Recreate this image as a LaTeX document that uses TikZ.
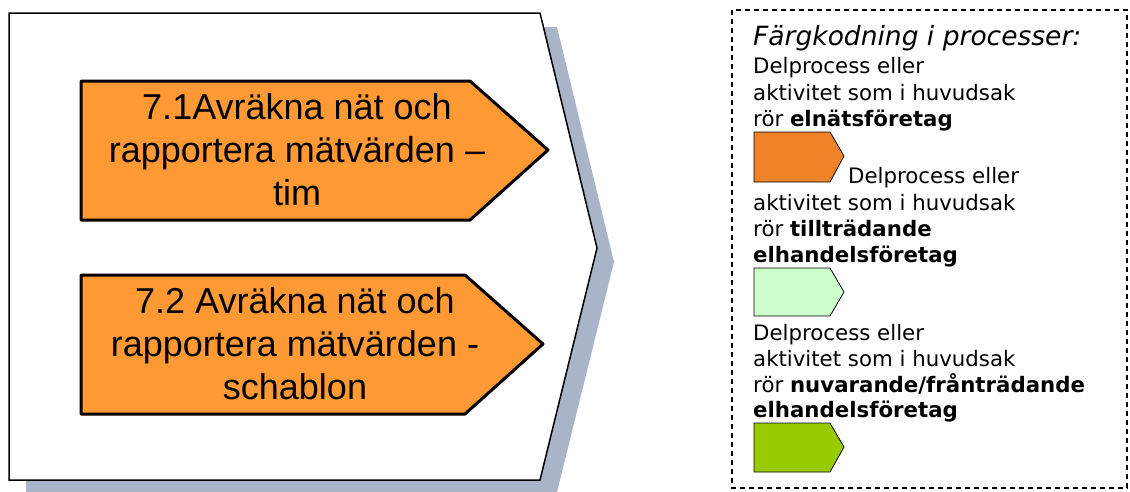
\documentclass[tikz,border=0pt]{standalone}
\usepackage{fontspec}
\setmainfont{Liberation Sans}
\newfontfamily\legendfont{DejaVu Sans}
\definecolor{shadowc}{HTML}{AAB4C8}
\definecolor{procorange}{HTML}{FF9933}
\definecolor{legorange}{HTML}{EE8328}
\definecolor{leglight}{HTML}{CCFFCC}
\definecolor{legdark}{HTML}{99CC00}
\begin{document}
\begin{tikzpicture}[x=1pt,y=-1pt,
  procshape/.style={draw=black,line width=3pt,line join=round,fill=procorange},
  proctext/.style={font=\fontsize{36}{43}\selectfont,align=center,inner sep=0pt},
  legshape/.style={draw=black,line width=0.8pt},
  legline/.style={anchor=base west,inner sep=0pt,font=\legendfont\fontsize{21.3}{26}\selectfont},
  legtitle/.style={anchor=base west,inner sep=0pt,font=\legendfont\itshape\fontsize{26.5}{30}\selectfont},
  legbox/.style={draw=black,line width=1.7pt,dash pattern=on 5pt off 4pt}]
\useasboundingbox (0,0) rectangle (1130,491);
% big chevron with shadow
\fill[shadowc] (26,27) -- (557,27) -- (614,262) -- (557,492) -- (26,492) -- cycle;
\draw[line width=1.5pt,fill=white] (9,13) -- (540,13) -- (597,248) -- (540,480) -- (9,480) -- cycle;
% process arrows
\draw[procshape] (81,81) -- (470,81) -- (548,150) -- (470,220) -- (81,220) -- cycle;
\node[proctext] (p1) at (297,150) {7.1Avräkna nät och\\rapportera mätvärden –\\tim};
\draw[procshape] (81,275) -- (465,275) -- (543,344) -- (465,414) -- (81,414) -- cycle;
\node[proctext] (p2) at (295,344) {7.2 Avräkna nät och\\rapportera mätvärden -\\schablon};
% legend
\draw[legbox] (732,10) rectangle (1127,488);
\node[legtitle] (t0) at (753,45) {Färgkodning i processer:};
\node[legline] (a1) at (753,73) {Delprocess eller};
\node[legline] (a2) at (753,100) {aktivitet som i huvudsak};
\node[legline] (a3) at (753,126) {rör \textbf{elnätsföretag}};
\draw[legshape,fill=legorange] (754,132) -- (830,132) -- (844,156) -- (830,182) -- (754,182) -- cycle;
\node[legline] (b1) at (848,183) {Delprocess eller};
\node[legline] (b2) at (753,210) {aktivitet som i huvudsak};
\node[legline] (b3) at (753,236) {rör \textbf{tillträdande}};
\node[legline] (b4) at (753,262) {\textbf{elhandelsföretag}};
\draw[legshape,fill=leglight] (754,268) -- (830,268) -- (844,292) -- (830,316) -- (754,316) -- cycle;
\node[legline] (c1) at (753,340) {Delprocess eller};
\node[legline] (c2) at (753,366) {aktivitet som i huvudsak};
\node[legline] (c3) at (753,392) {rör \textbf{nuvarande/frånträdande}};
\node[legline] (c4) at (753,417) {\textbf{elhandelsföretag}};
\draw[legshape,fill=legdark] (754,423) -- (830,423) -- (844,447) -- (830,472) -- (754,472) -- cycle;
\end{tikzpicture}
\end{document}
